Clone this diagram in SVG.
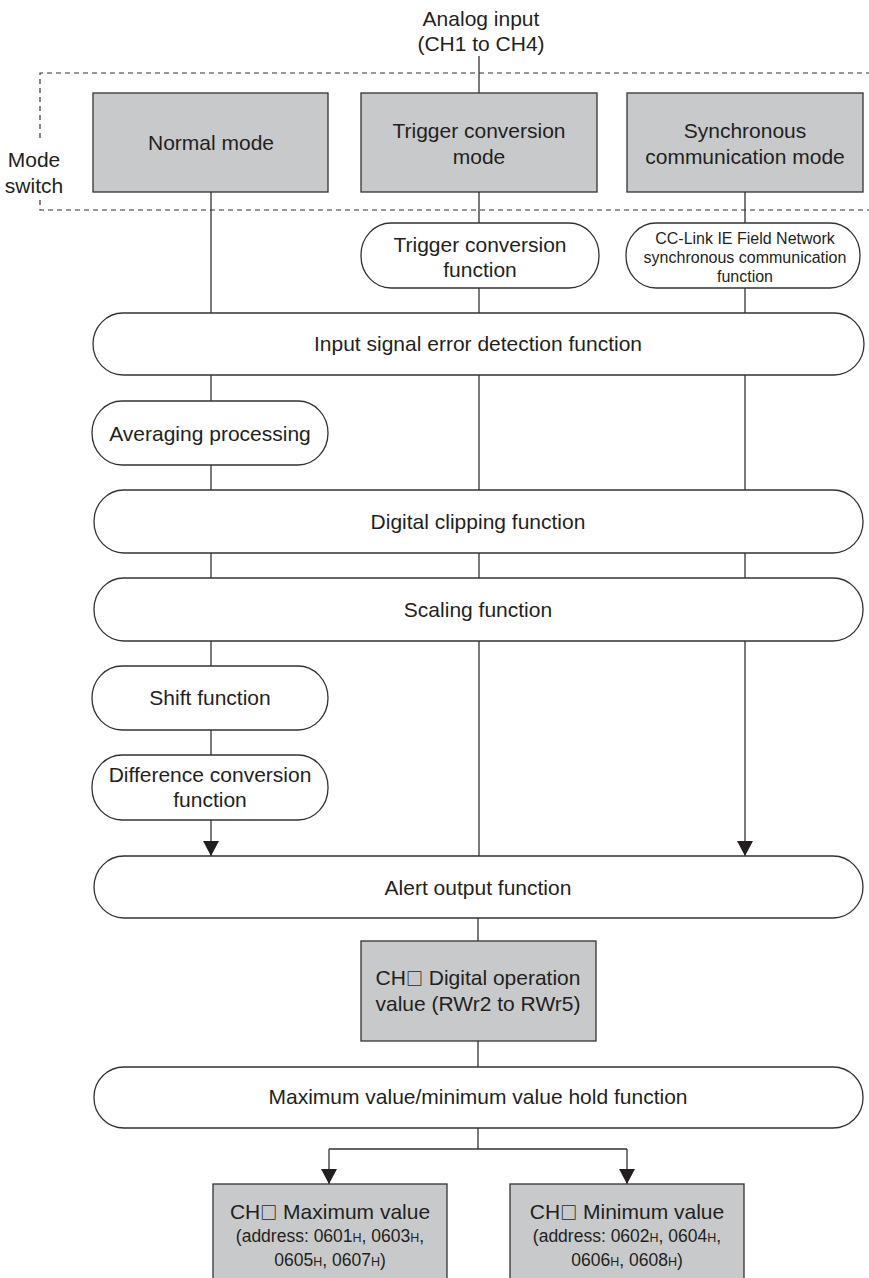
<svg xmlns="http://www.w3.org/2000/svg" width="869" height="1278" viewBox="0 0 869 1278">
<defs>
<style>
.t{font-family:"Liberation Sans",Arial,sans-serif;font-size:21px;fill:#231f20;text-anchor:middle}
.s{font-size:16px}
.a{font-size:17.5px}
.sub{font-size:12.5px}
.sq{font-family:"Noto Sans CJK JP","DejaVu Sans",sans-serif;font-size:17px;font-weight:bold}
.g{fill:#c8c9cb;stroke:#333;stroke-width:1.3}
.w{fill:#fff;stroke:#333;stroke-width:1.3}
.c{fill:none;stroke:#333;stroke-width:1.3}
.d{fill:none;stroke:#333;stroke-width:1.2;stroke-dasharray:5,4}
</style>
<marker id="ah" viewBox="0 0 15 16" refX="15" refY="8" markerWidth="15" markerHeight="16" markerUnits="userSpaceOnUse" orient="auto">
<path d="M0,0 L15,8 L0,16 Z" fill="#231f20"/>
</marker>
</defs>

<g id="input-label">
<text class="t" x="481" y="26">Analog input</text>
<text class="t" x="481" y="51">(CH1 to CH4)</text>
</g>

<g id="mode-switch">
<path class="d" d="M880,73 L40,73 L40,142 M40,200 L40,210 L880,210"/>
<text class="t" x="34" y="167">Mode</text>
<text class="t" x="34" y="193">switch</text>
</g>

<g id="connectors">
<path class="c" d="M479,56 V93"/>
<path class="c" d="M211,192 V313 M211,375 V401 M211,465 V490 M211,553 V578 M211,641 V666 M211,730 V755"/>
<path class="c" d="M211,820 V856" marker-end="url(#ah)"/>
<path class="c" d="M479,192 V223 M479,288 V313 M479,375 V490 M479,553 V578 M479,641 V856"/>
<path class="c" d="M745,192 V223 M745,288 V313 M745,375 V490 M745,553 V578"/>
<path class="c" d="M745,641 V856" marker-end="url(#ah)"/>
<path class="c" d="M478,918 V941 M478,1041 V1067 M478,1128 V1149 M329,1149 H627"/>
<path class="c" d="M329,1149 V1184" marker-end="url(#ah)"/>
<path class="c" d="M627,1149 V1184" marker-end="url(#ah)"/>
</g>

<g id="normal-mode">
<rect class="g" x="93" y="93" width="235" height="99"/>
<text class="t" x="211" y="150">Normal mode</text>
</g>
<g id="trigger-mode">
<rect class="g" x="361" y="93" width="236" height="99"/>
<text class="t" x="479" y="138">Trigger conversion</text>
<text class="t" x="479" y="164">mode</text>
</g>
<g id="sync-mode">
<rect class="g" x="627" y="93" width="236" height="99"/>
<text class="t" x="745" y="138">Synchronous</text>
<text class="t" x="745" y="164">communication mode</text>
</g>

<g id="trigger-function">
<rect class="w" x="361" y="223" width="238" height="65" rx="30" ry="32"/>
<text class="t" x="480" y="252">Trigger conversion</text>
<text class="t" x="480" y="277">function</text>
</g>
<g id="cclink-function">
<rect class="w" x="626" y="223" width="234" height="65" rx="30" ry="32"/>
<text class="t s" x="745" y="244">CC-Link IE Field Network</text>
<text class="t s" x="745" y="263">synchronous communication</text>
<text class="t s" x="745" y="282">function</text>
</g>

<g id="input-error">
<rect class="w" x="93" y="313" width="771" height="62" rx="30" ry="31"/>
<text class="t" x="478" y="351">Input signal error detection function</text>
</g>

<g id="averaging">
<rect class="w" x="92" y="401" width="236" height="64" rx="30" ry="32"/>
<text class="t" x="210" y="441">Averaging processing</text>
</g>

<g id="digital-clipping">
<rect class="w" x="94" y="490" width="769" height="63" rx="30" ry="31"/>
<text class="t" x="478" y="529">Digital clipping function</text>
</g>

<g id="scaling">
<rect class="w" x="94" y="578" width="769" height="63" rx="30" ry="31"/>
<text class="t" x="478" y="617">Scaling function</text>
</g>

<g id="shift">
<rect class="w" x="92" y="666" width="236" height="64" rx="30" ry="32"/>
<text class="t" x="210" y="705">Shift function</text>
</g>

<g id="difference">
<rect class="w" x="92" y="755" width="236" height="65" rx="30" ry="32"/>
<text class="t" x="210" y="782">Difference conversion</text>
<text class="t" x="210" y="807">function</text>
</g>

<g id="alert">
<rect class="w" x="94" y="856" width="769" height="62" rx="30" ry="31"/>
<text class="t" x="478" y="895">Alert output function</text>
</g>

<g id="digital-value">
<rect class="g" x="361" y="941" width="235" height="100"/>
<text class="t" x="478" y="985">CH<tspan class="sq">□</tspan> Digital operation</text>
<text class="t" x="478" y="1011">value (RWr2 to RWr5)</text>
</g>

<g id="maxmin-hold">
<rect class="w" x="94" y="1067" width="769" height="61" rx="30" ry="30"/>
<text class="t" x="478" y="1104">Maximum value/minimum value hold function</text>
</g>

<g id="max-value">
<rect class="g" x="213" y="1184" width="234" height="110"/>
<text class="t" x="330" y="1219">CH<tspan class="sq">□</tspan> Maximum value</text>
<text class="t a" x="330" y="1242">(address: 0601<tspan class="sub">H</tspan>, 0603<tspan class="sub">H</tspan>,</text>
<text class="t a" x="330" y="1266">0605<tspan class="sub">H</tspan>, 0607<tspan class="sub">H</tspan>)</text>
</g>

<g id="min-value">
<rect class="g" x="510" y="1184" width="234" height="110"/>
<text class="t" x="627" y="1219">CH<tspan class="sq">□</tspan> Minimum value</text>
<text class="t a" x="627" y="1242">(address: 0602<tspan class="sub">H</tspan>, 0604<tspan class="sub">H</tspan>,</text>
<text class="t a" x="627" y="1266">0606<tspan class="sub">H</tspan>, 0608<tspan class="sub">H</tspan>)</text>
</g>
</svg>
